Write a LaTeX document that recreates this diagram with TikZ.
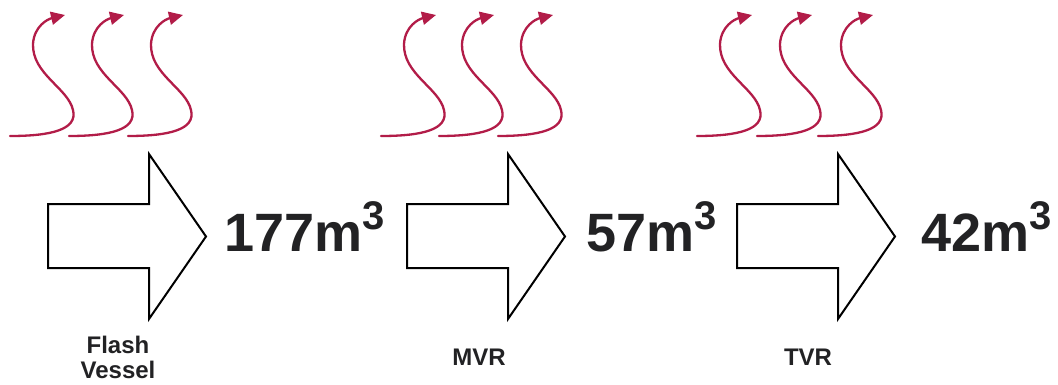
\documentclass[tikz,border=0pt]{standalone}
\usepackage{fontspec}
\setmainfont{Liberation Sans}
\usetikzlibrary{arrows.meta}
\definecolor{steam}{RGB}{178,28,72}
\definecolor{ink}{RGB}{34,34,36}
\tikzset{
  outline/.style={draw=black, line width=2pt, line join=miter, fill=white},
  wave/.style={draw=steam, line width=2.3pt, line cap=round,
    -{Triangle[length=14pt,width=13pt]}},
  volume/.style={anchor=base west, inner sep=0pt, text=ink,
    font=\bfseries\fontsize{54}{54}\selectfont},
  stage/.style={anchor=base, inner sep=0pt, text=ink,
    font=\bfseries\fontsize{24}{25}\selectfont},
  blockarrow/.pic={
    \path[outline] (0,204) -- (101,204) -- (101,154) -- (158,236.5)
      -- (101,319) -- (101,268) -- (0,268) -- cycle;
  },
  heatwave/.pic={
    \path[wave] (0,0) .. controls (40,0) and (68,-6) .. (63,-26)
      .. controls (58,-48) and (22,-62) .. (23,-92)
      .. controls (24,-110) and (38,-117) .. (55,-121);
  }
}
\newcommand{\cubed}[1]{#1m\raisebox{21.5pt}{\fontsize{40}{40}\selectfont 3}}
\begin{document}
\begin{tikzpicture}[x=1pt,y=-1pt]
  \useasboundingbox (0,0) rectangle (1058,385);

  % heat input above each stage
  \foreach \sx in {10,69,128, 381,439,498, 697,757,818}
    \pic at (\sx,136) {heatwave};

  % stage arrows
  \pic at (48,0) {blockarrow};
  \pic at (407,0) {blockarrow};
  \pic at (737,0) {blockarrow};

  % volumes after each stage
  \node[volume] (v1) at (224,251) {\cubed{177}};
  \node[volume] (v2) at (586,251) {\cubed{57}};
  \node[volume] (v3) at (921,251) {\cubed{42}};

  % stage names
  \node[stage] (flash)  at (118,353) {Flash};
  \node[stage] (vessel) at (118,378) {Vessel};
  \node[stage] (mvr)    at (479,365) {MVR};
  \node[stage] (tvr)    at (808,365) {TVR};
\end{tikzpicture}
\end{document}
